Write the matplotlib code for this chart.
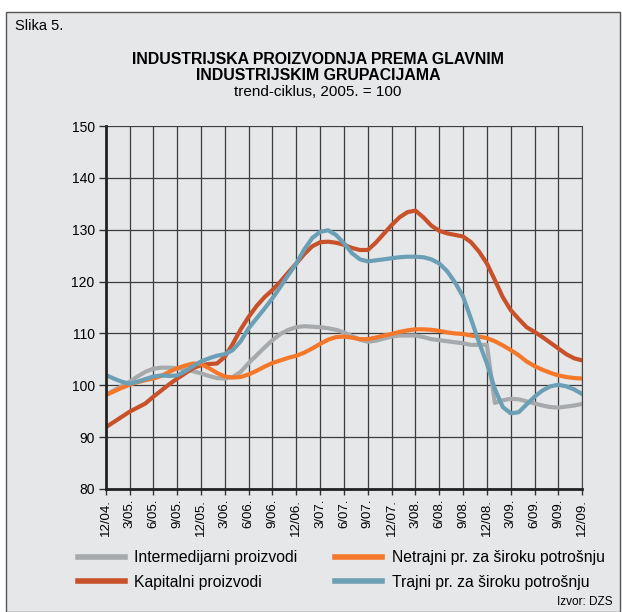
import numpy as np
import matplotlib.pyplot as plt
from matplotlib.patches import Rectangle

plt.rcParams['font.family'] = ['Liberation Sans', 'DejaVu Sans']

# monthly values, 12/04 .. 12/09
intermedijarni = [98.2, 99.0, 99.8, 100.7, 101.7, 102.6, 103.2, 103.4, 103.4, 103.3,
                  103.1, 102.7, 102.3, 101.8, 101.4, 101.3, 101.6, 102.6, 104.3, 105.8,
                  107.3, 108.7, 109.9, 110.7, 111.2, 111.4, 111.3, 111.2, 111.0, 110.7,
                  110.2, 109.5, 108.8, 108.4, 108.6, 109.0, 109.4, 109.6, 109.6, 109.6,
                  109.3, 108.9, 108.7, 108.5, 108.3, 108.1, 107.8, 107.8, 107.8, 96.6,
                  97.1, 97.4, 97.3, 96.9, 96.5, 96.1, 95.8, 95.7, 95.9, 96.1, 96.4]
netrajni = [98.1, 98.8, 99.5, 100.1, 100.6, 101.0, 101.3, 101.8, 102.6, 103.3,
            103.8, 104.2, 104.1, 103.3, 102.4, 101.7, 101.5, 101.6, 102.1, 102.8,
            103.6, 104.3, 104.8, 105.3, 105.7, 106.3, 107.1, 108.0, 108.8, 109.3,
            109.4, 109.2, 108.9, 108.9, 109.2, 109.6, 109.9, 110.3, 110.6, 110.8,
            110.8, 110.7, 110.5, 110.2, 110.0, 109.9, 109.6, 109.4, 109.1, 108.5,
            107.7, 106.8, 105.8, 104.6, 103.7, 103.0, 102.4, 101.9, 101.6, 101.4, 101.3]
kapitalni = [91.9, 92.9, 93.9, 94.9, 95.7, 96.5, 97.8, 99.0, 100.2, 101.3,
             102.3, 103.3, 103.9, 104.1, 104.2, 105.5, 108.0, 110.8, 113.2, 115.3,
             117.0, 118.4, 120.0, 121.8, 123.5, 125.3, 126.8, 127.6, 127.7, 127.5,
             127.1, 126.5, 126.1, 126.1, 127.5, 129.2, 130.9, 132.4, 133.4, 133.7,
             132.4, 130.8, 129.8, 129.3, 129.0, 128.7, 127.6, 125.8, 123.5, 120.3,
             117.0, 114.5, 112.8, 111.2, 110.3, 109.3, 108.2, 107.1, 106.0, 105.2, 104.8]
trajni = [102.0, 101.3, 100.7, 100.3, 100.7, 101.2, 101.7, 101.9, 101.8, 101.9,
          102.7, 103.7, 104.6, 105.2, 105.7, 106.0, 106.8, 108.5, 111.0, 112.9,
          114.8, 116.8, 119.0, 121.3, 123.5, 126.2, 128.4, 129.6, 129.9, 129.0,
          127.4, 125.5, 124.3, 123.9, 124.1, 124.3, 124.5, 124.7, 124.8, 124.8,
          124.7, 124.3, 123.5, 122.0, 119.8, 117.1, 112.8, 108.3, 104.2, 99.3,
          95.8, 94.6, 94.8, 96.3, 97.8, 99.0, 99.8, 100.1, 99.8, 99.2, 98.3]

tick_labels = ["12/04.", "3/05.", "6/05.", "9/05.", "12/05.", "3/06.", "6/06.", "9/06.",
               "12/06.", "3/07.", "6/07.", "9/07.", "12/07.", "3/08.", "6/08.", "9/08.",
               "12/08.", "3/09.", "6/09.", "9/09.", "12/09."]

bg = '#e6e7e9'
months = np.arange(len(kapitalni))

fig = plt.figure(figsize=(6.22, 6.12), dpi=100)
fig.patch.set_facecolor('white')
fig.patches.append(Rectangle((6/622, 0), 614/622, 600/612, transform=fig.transFigure,
                             facecolor=bg, edgecolor='#555555', lw=1, zorder=-5))

ax = fig.add_axes([0.170, 0.201, 0.766, 0.593])
ax.set_zorder(2)
ax.set_facecolor(bg)

lw = 3.0
ax.plot(months, intermedijarni, color='#a7aaad', lw=lw, label='Intermedijarni proizvodi', solid_joinstyle='round')
ax.plot(months, kapitalni, color='#c8512a', lw=lw, label='Kapitalni proizvodi', solid_joinstyle='round')
ax.plot(months, netrajni, color='#f5782a', lw=lw, label='Netrajni pr. za široku potrošnju', solid_joinstyle='round')
ax.plot(months, trajni, color='#6b9fb5', lw=lw, label='Trajni pr. za široku potrošnju', solid_joinstyle='round')

ax.set_xlim(0, 60)
ax.set_ylim(80, 150)
ax.set_yticks(range(80, 151, 10))
ax.set_xticks(np.arange(0, 61, 3))
ax.set_xticklabels(tick_labels, rotation=90, fontsize=9.5)
ax.tick_params(axis='y', labelsize=10, length=5, width=1, color='#333333', pad=3)
ax.tick_params(axis='x', length=4, width=1, color='#333333', pad=3)
ax.grid(True, color='#3c3c3c', lw=0.9)
ax.set_axisbelow(True)
for s in ['left', 'bottom']:
    ax.spines[s].set_linewidth(2)
    ax.spines[s].set_color('#222222')
ax.spines['right'].set_color('#444444')
ax.spines['top'].set_visible(False)

fig.text(0.024, 0.958, "Slika 5.", fontsize=10.5, va='center', ha='left')
fig.text(0.511, 0.903, "INDUSTRIJSKA PROIZVODNJA PREMA GLAVNIM", fontsize=11.4,
         fontweight='bold', ha='center', va='center')
fig.text(0.511, 0.877, "INDUSTRIJSKIM GRUPACIJAMA", fontsize=11.4,
         fontweight='bold', ha='center', va='center')
fig.text(0.511, 0.849, "trend-ciklus, 2005. = 100", fontsize=11, ha='center', va='center')
fig.text(0.984, 0.016, "Izvor: DZS", fontsize=8.5, ha='right', va='center')

leg = fig.legend(loc='upper left', bbox_to_anchor=(0.115, 0.111), ncol=2, frameon=False,
                 fontsize=11.3, handlelength=3.0, columnspacing=2.4, handletextpad=0.6,
                 labelspacing=0.6, borderaxespad=0)
leg.set_zorder(3)
for h in leg.get_lines():
    h.set_linewidth(4)

fig.savefig('out.png', dpi=100, facecolor=fig.get_facecolor())
